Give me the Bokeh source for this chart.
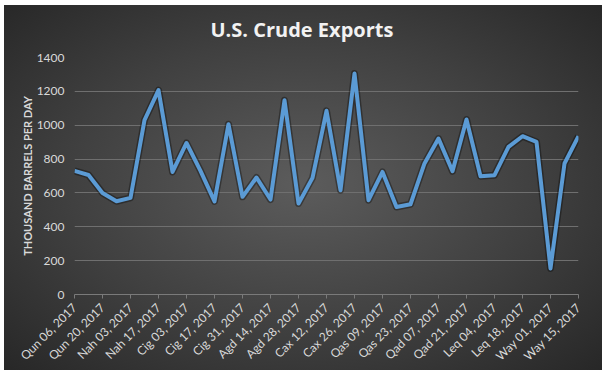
import math
from bokeh.plotting import figure
from bokeh.models import FixedTicker, Range1d, ColumnDataSource
from bokeh.embed import file_html
from bokeh.resources import INLINE

# ---- data ----
chart_title = "U.S. Crude Exports"
week_labels = [
    "Qun 06, 2017", "Qun 20, 2017", "Nah 03, 2017", "Nah 17, 2017",
    "Cig 03, 2017", "Cig 17, 2017", "Cig 31, 2017", "Agd 14, 2017",
    "Agd 28, 2017", "Cax 12, 2017", "Cax 26, 2017", "Qas 09, 2017",
    "Qas 23, 2017", "Qad 07, 2017", "Qad 21, 2017", "Leq 04, 2017",
    "Leq 18, 2017", "Way 01, 2017", "Way 15, 2017",
]
exports = [
    730, 706, 600, 551, 571, 1030, 1207, 724, 895, 730,
    550, 1006, 577, 691, 561, 1148, 537, 689, 1085, 616,
    1305, 557, 724, 517, 533, 774, 921, 728, 1034, 699,
    705, 872, 935, 901, 154, 774, 935,
]
y_ticks = [0, 200, 400, 600, 800, 1000, 1200, 1400]
label_every = 2

weeks = list(range(len(exports)))
src = ColumnDataSource(dict(week=weeks, kbd=exports))

p = figure(
    frame_width=504, frame_height=237,
    min_border_left=70, min_border_right=24, min_border_top=60, min_border_bottom=74,
    x_range=Range1d(weeks[0], weeks[-1]), y_range=Range1d(y_ticks[0], y_ticks[-1]),
    output_backend="svg", toolbar_location=None,
)
p.styles = {
    "margin-left": "4px", "margin-top": "-3px",
    "background": ("linear-gradient(#ffffff, #ffffff) 0 0 / 100% 8px no-repeat, "
                   "radial-gradient(ellipse at 50% 50%, #5c5c5c 0%, #404040 55%, #272727 100%)"),
}
p.background_fill_alpha = 0
p.border_fill_alpha = 0
p.outline_line_color = None

# title
p.title.text = chart_title
p.title.align = "left"
p.title.offset = 136
p.title.text_font = "Open Sans"
p.title.text_font_style = "bold"
p.title.text_font_size = "20px"
p.title.text_color = "#f2f2f2"
p.title.standoff = 30

# grid
p.xgrid.grid_line_color = None
p.ygrid.grid_line_color = "#6f6f6f"
p.ygrid.grid_line_width = 1

# y axis
p.yaxis.ticker = FixedTicker(ticks=y_ticks)
p.yaxis.axis_line_color = None
p.yaxis.major_tick_line_color = None
p.yaxis.major_tick_in = 0
p.yaxis.major_tick_out = 0
p.yaxis.minor_tick_line_color = None
p.yaxis.minor_tick_in = 0
p.yaxis.minor_tick_out = 0
p.yaxis.major_label_text_font = "Lato"
p.yaxis.major_label_text_font_size = "12px"
p.yaxis.major_label_text_color = "#d9d9d9"
p.yaxis.major_label_standoff = 10
p.yaxis.axis_label = "THOUSAND BARRELS PER DAY"
p.yaxis.axis_label_text_font = "Lato"
p.yaxis.axis_label_text_font_style = "bold"
p.yaxis.axis_label_text_font_size = "11px"
p.yaxis.axis_label_text_color = "#d9d9d9"
p.yaxis.axis_label_standoff = 0

# x axis
tick_pos = weeks[::label_every]
p.xaxis.ticker = FixedTicker(ticks=tick_pos)
p.xaxis.major_label_overrides = {t: lab for t, lab in zip(tick_pos, week_labels)}
p.xaxis.major_label_orientation = math.pi / 4
p.xaxis.axis_line_color = "#7a7a7a"
p.xaxis.major_tick_line_color = "#7a7a7a"
p.xaxis.major_tick_in = 0
p.xaxis.major_tick_out = 4
p.xaxis.minor_tick_line_color = None
p.xaxis.minor_tick_in = 0
p.xaxis.minor_tick_out = 0
p.xaxis.major_label_text_font = "Lato"
p.xaxis.major_label_text_font_size = "12px"
p.xaxis.major_label_text_color = "#d9d9d9"
p.xaxis.major_label_standoff = 7

# line with soft shadow
p.line("week", "kbd", source=src, line_color="black", line_alpha=0.35, line_width=7, line_join="round")
p.line("week", "kbd", source=src, line_color="#5b9bd5", line_width=4, line_join="round")

open("out.html", "w").write(file_html(p, INLINE))
